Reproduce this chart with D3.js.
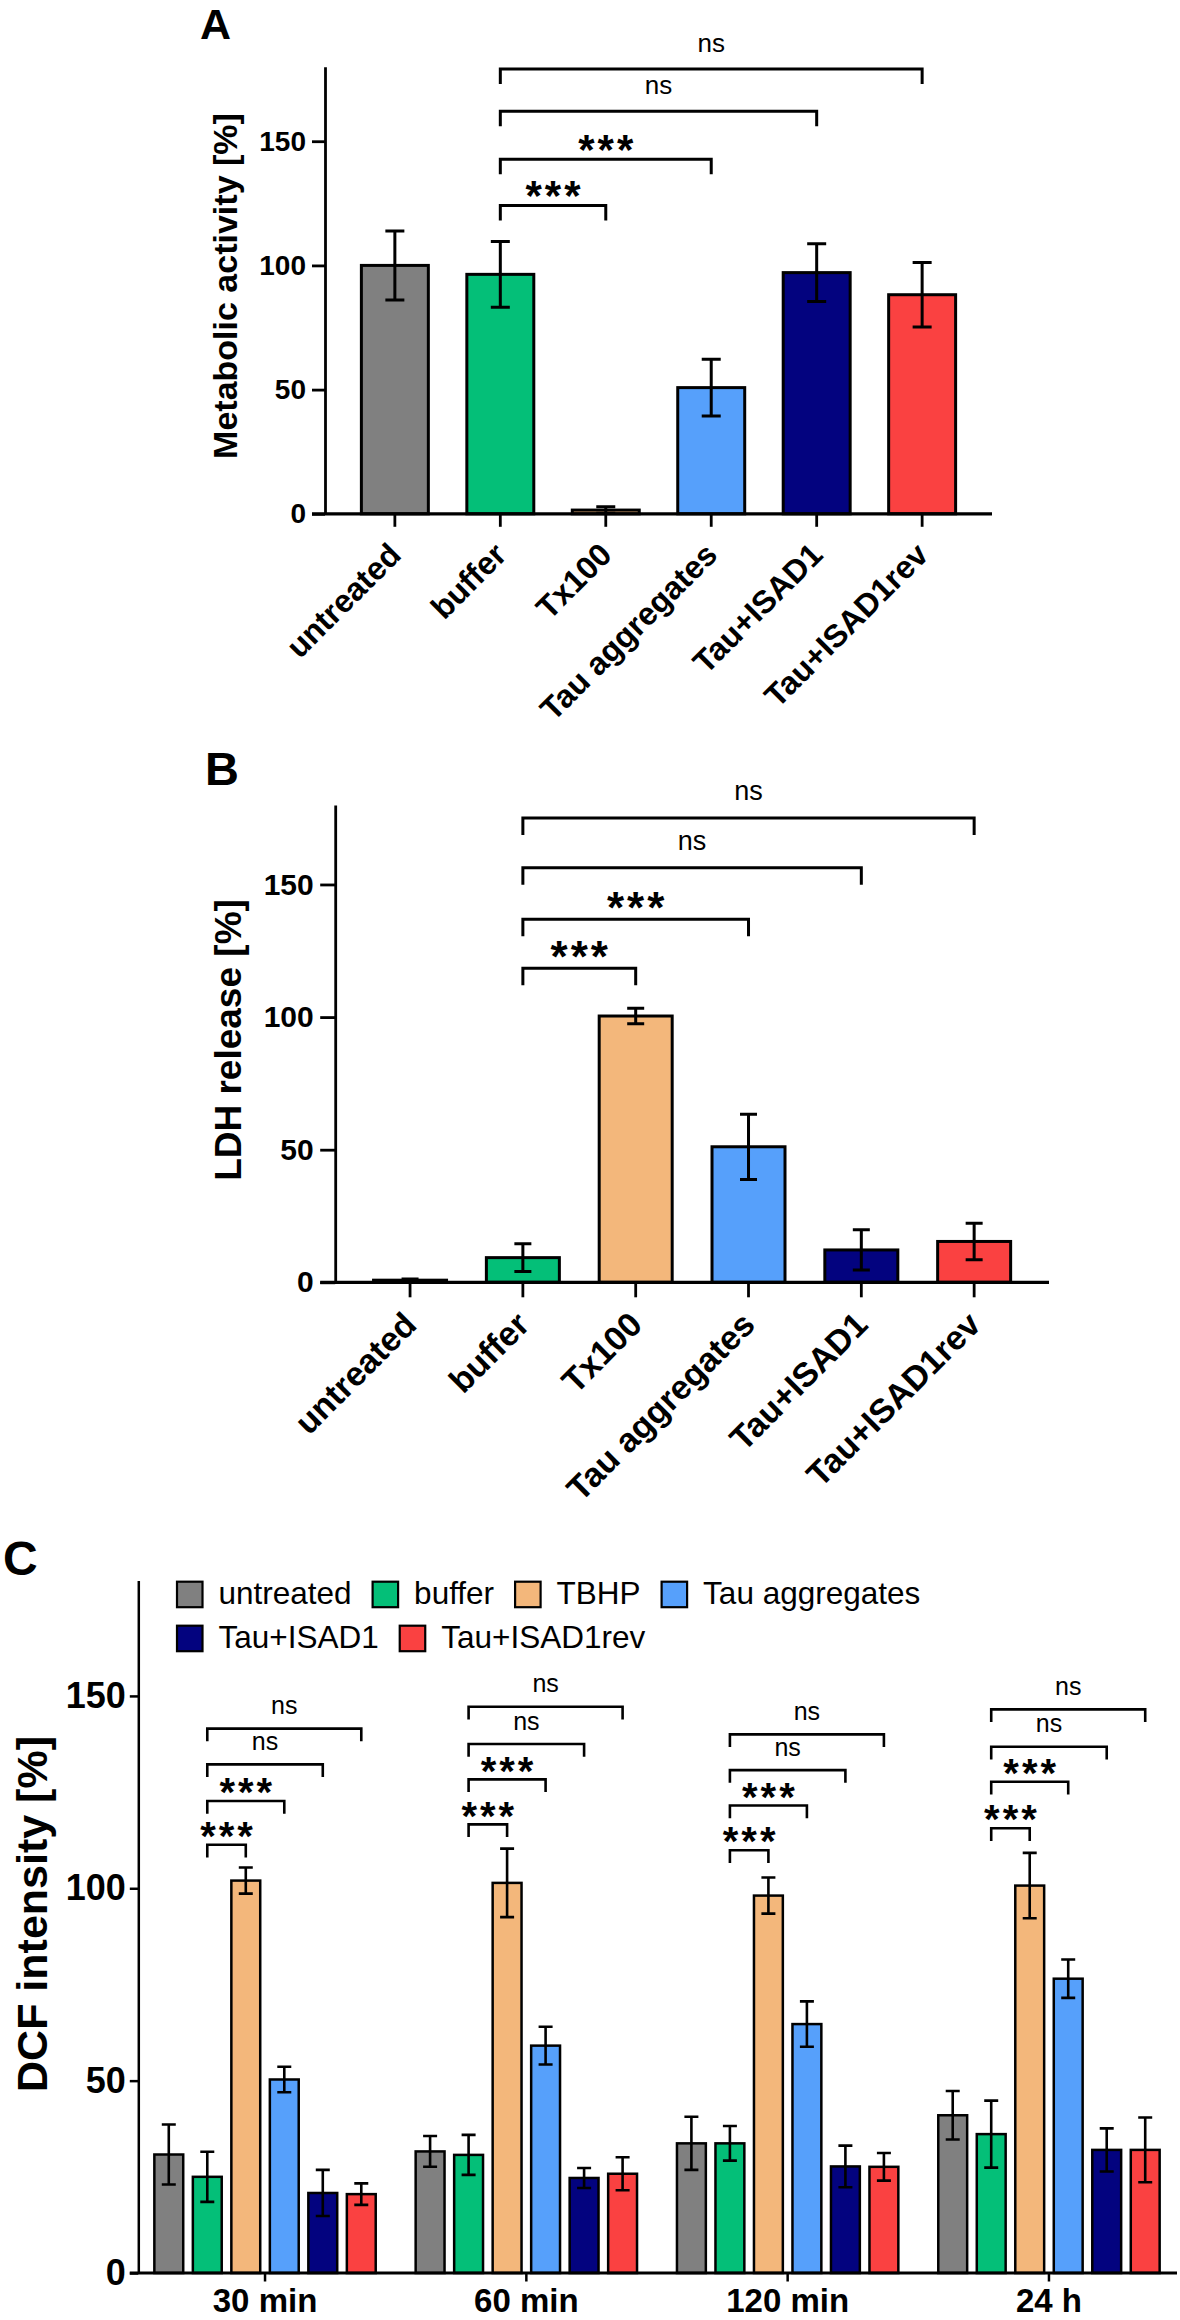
<!DOCTYPE html>
<html>
<head>
<meta charset="utf-8">
<script src="https://cdn.jsdelivr.net/npm/d3@7"></script>
<style>
  body { margin: 0; background: #fff; }
  svg { display: block; }
</style>
</head>
<body>
<svg id="chart" width="1180" height="2320"></svg>
<script>
// ---------------- DATA ----------------
const categories = ["untreated", "buffer", "Tx100", "Tau aggregates", "Tau+ISAD1", "Tau+ISAD1rev"];
const yTicks = [0, 50, 100, 150];
const sigLabels = ["***", "***", "ns", "ns"];

// Panel A: metabolic activity [%]
const metabolicMean = [100, 96.4, 1.5, 50.8, 97.1, 88.2];
const metabolicSD   = [13.9, 13.2, 1.3, 11.4, 11.6, 13.0];
const metabolicBracket = [124.1, 142.7, 162.1, 179.1];

// Panel B: LDH release [%]
const ldhMean = [0.8, 9.3, 100.4, 51.1, 12.2, 15.4];
const ldhSD   = [0.4, 5.2, 2.9, 12.3, 7.6, 6.9];
const ldhBracket = [118.4, 136.9, 156.3, 175.1];

// Panel C: DCF intensity [%]
const timepoints = ["30 min", "60 min", "120 min", "24 h"];
const seriesNames = ["untreated", "buffer", "TBHP", "Tau aggregates", "Tau+ISAD1", "Tau+ISAD1rev"];
const dcfUntreated   = [30.8, 31.6, 33.7, 41.0];
const dcfBuffer      = [25.0, 30.7, 33.7, 36.1];
const dcfTBHP        = [102.0, 101.4, 98.1, 100.7];
const dcfTauAgg      = [50.3, 59.1, 64.7, 76.5];
const dcfTauISAD1    = [20.8, 24.7, 27.7, 32.0];
const dcfTauISAD1rev = [20.5, 25.8, 27.6, 32.0];
const sdUntreated   = [7.8, 4.0, 6.9, 6.3];
const sdBuffer      = [6.5, 5.2, 4.5, 8.7];
const sdTBHP        = [3.4, 8.9, 4.7, 8.5];
const sdTauAgg      = [3.3, 4.9, 5.9, 5.0];
const sdTauISAD1    = [6.0, 2.6, 5.4, 5.6];
const sdTauISAD1rev = [2.8, 4.3, 3.6, 8.4];
const dcfBracket = [
  [111.3, 122.7, 132.2, 141.5],
  [116.6, 128.3, 137.5, 147.2],
  [109.9, 121.5, 130.7, 140.0],
  [115.6, 127.7, 136.8, 146.5]
];

const colors = ["#808080", "#04BF78", "#F3B77B", "#56A0FB", "#03037F", "#FA4141"];

// ---------------- DRAWING ----------------
const FONT = '"Liberation Sans", Arial, Helvetica, sans-serif';
const svg = d3.select("#chart");

function styleAxis(ax, o) {
  ax.attr("font-family", null).attr("font-size", null);
  ax.select(".domain").attr("stroke", "#000").attr("stroke-width", o.axisW);
  ax.selectAll(".tick line").attr("stroke", "#000").attr("stroke-width", o.axisW);
  ax.selectAll(".tick text").attr("fill", "#000").style("font-family", FONT)
    .style("font-size", o.tickFs + "px").style("font-weight", "bold");
}

function drawSig(g, xl, xr, yb, drop, label, o) {
  g.append("path")
    .attr("d", `M${xl},${yb + drop}V${yb}H${xr}V${yb + drop}`)
    .attr("fill", "none").attr("stroke", "#000").attr("stroke-width", o.brW);
  const mid = (xl + xr) / 2;
  if (label === "ns") {
    g.append("text").attr("x", mid).attr("y", yb - o.nsOff + 0.26 * o.nsFs)
      .attr("text-anchor", "middle").style("font-family", FONT)
      .style("font-size", o.nsFs + "px").text(label);
  } else {
    g.append("text").attr("x", mid + o.starLs / 2).attr("y", yb - o.starOff + 0.57 * o.starFs)
      .attr("text-anchor", "middle").style("font-family", FONT)
      .style("font-size", o.starFs + "px").style("font-weight", "bold")
      .style("letter-spacing", o.starLs + "px").text(label);
  }
}

function simplePanel(o) {
  const g = svg.append("g");
  const x = d3.scaleBand().domain(categories).range([o.x0, o.x1])
    .paddingInner(o.pi).paddingOuter(o.po);
  const y = d3.scaleLinear().domain([0, 180]).range([o.y0, o.yTop]);
  const bw = x.bandwidth();
  const cx = d => x(d) + bw / 2;

  g.selectAll("rect.bar").data(categories).join("rect").attr("class", "bar")
    .attr("x", d => x(d)).attr("width", bw)
    .attr("y", (d, i) => y(o.mean[i]))
    .attr("height", (d, i) => y(0) - y(o.mean[i]))
    .attr("fill", (d, i) => colors[i]).attr("stroke", "#000").attr("stroke-width", o.barW);

  // error bars
  const eb = g.append("g").attr("stroke", "#000").attr("stroke-width", o.errW).attr("fill", "none");
  categories.forEach((d, i) => {
    const hi = y(o.mean[i] + o.sd[i]), lo = y(Math.max(0, o.mean[i] - o.sd[i]));
    eb.append("path").attr("d",
      `M${cx(d)},${hi}V${lo}M${cx(d) - o.cap / 2},${hi}H${cx(d) + o.cap / 2}` +
      (o.mean[i] - o.sd[i] > 0 ? `M${cx(d) - o.cap / 2},${lo}H${cx(d) + o.cap / 2}` : ""));
  });

  // y axis
  const ya = g.append("g").attr("transform", `translate(${o.x0},0)`)
    .call(d3.axisLeft(y).tickValues(yTicks).tickSize(o.tick).tickSizeOuter(0).tickPadding(o.tickPad));
  styleAxis(ya, o);

  // x axis
  const xa = g.append("g").attr("transform", `translate(0,${o.y0})`)
    .call(d3.axisBottom(x).tickSize(o.tick).tickSizeOuter(0).tickFormat(""));
  styleAxis(xa, o);
  xa.select(".domain").remove();
  g.append("line").attr("x1", o.x0 - o.tick).attr("x2", o.x1).attr("y1", o.y0).attr("y2", o.y0)
    .attr("stroke", "#000").attr("stroke-width", o.axisW + 0.5);

  // rotated category labels
  g.selectAll("text.cat").data(categories).join("text").attr("class", "cat")
    .attr("transform", d => `translate(${cx(d)},${o.y0 + o.labOff}) rotate(-45)`)
    .attr("text-anchor", "end").attr("dy", "0.35em")
    .style("font-family", FONT).style("font-size", o.catFs + "px").style("font-weight", "bold")
    .text(d => d);

  // y label
  g.append("text").attr("transform", `translate(${o.ylabX},${o.ylabY}) rotate(-90)`)
    .attr("text-anchor", "middle").style("font-family", FONT)
    .style("font-size", o.ylabFs + "px").style("font-weight", "bold").text(o.ylab);

  // panel letter
  g.append("text").attr("x", o.letterX).attr("y", o.letterY)
    .style("font-family", FONT).style("font-size", o.letterFs + "px").style("font-weight", "bold")
    .text(o.letter);

  // significance brackets (buffer vs. others)
  o.brackets.forEach((v, k) => {
    drawSig(g, cx(categories[1]), cx(categories[k + 2]), y(v), o.drop, sigLabels[k], o);
  });
}

simplePanel({
  letter: "A", letterX: 200, letterY: 39, letterFs: 43,
  ylab: "Metabolic activity [%]", ylabX: 237, ylabY: 286, ylabFs: 34,
  x0: 325, x1: 992, y0: 513.8, yTop: 66.7, pi: 0.365, po: 0.345,
  mean: metabolicMean, sd: metabolicSD, brackets: metabolicBracket,
  barW: 3, errW: 3, cap: 19, axisW: 2.8, tick: 13, tickPad: 6, tickFs: 28,
  catFs: 32, labOff: 35, drop: 15, brW: 3,
  nsFs: 26, nsOff: 23.5, starFs: 42, starOff: 19, starLs: 3
});

simplePanel({
  letter: "B", letterX: 205, letterY: 785, letterFs: 47,
  ylab: "LDH release [%]", ylabX: 241, ylabY: 1040, ylabFs: 37,
  x0: 335.2, x1: 1049, y0: 1282.3, yTop: 804.9, pi: 0.353, po: 0.34,
  mean: ldhMean, sd: ldhSD, brackets: ldhBracket,
  barW: 3, errW: 3, cap: 17, axisW: 2.8, tick: 15, tickPad: 6.5, tickFs: 30,
  catFs: 34, labOff: 36, drop: 17, brW: 3,
  nsFs: 27, nsOff: 25, starFs: 44, starOff: 21, starLs: 3
});

// ---------------- PANEL C ----------------
(function () {
  const o = {
    x0: 138.3, x1: 1177, y0: 2273, yTop: 1580.5,
    barW: 2.5, errW: 2.6, cap: 14, axisW: 2.5, tick: 8.5, tickPad: 4, tickFs: 36,
    drop: 12.7, brW: 2.6, nsFs: 25, nsOff: 21, starFs: 40, starOff: 17.6, starLs: 3
  };
  const g = svg.append("g");
  const means = [dcfUntreated, dcfBuffer, dcfTBHP, dcfTauAgg, dcfTauISAD1, dcfTauISAD1rev];
  const sds = [sdUntreated, sdBuffer, sdTBHP, sdTauAgg, sdTauISAD1, sdTauISAD1rev];
  const x0 = d3.scaleBand().domain(timepoints).range([o.x0, 1175.7]).paddingInner(0.116).paddingOuter(0.043);
  const x1 = d3.scaleBand().domain(seriesNames).range([0, x0.bandwidth()]).paddingInner(0.25).paddingOuter(0.125);
  const y = d3.scaleLinear().domain([0, 180]).range([o.y0, o.yTop]);
  const bw = x1.bandwidth();
  const cx = (t, s) => x0(t) + x1(s) + bw / 2;

  const cells = [];
  timepoints.forEach((t, ti) => seriesNames.forEach((s, si) => cells.push({ t, s, ti, si, v: means[si][ti], e: sds[si][ti] })));

  g.selectAll("rect.bar").data(cells).join("rect").attr("class", "bar")
    .attr("x", d => x0(d.t) + x1(d.s)).attr("width", bw)
    .attr("y", d => y(d.v)).attr("height", d => y(0) - y(d.v))
    .attr("fill", d => colors[d.si]).attr("stroke", "#000").attr("stroke-width", o.barW);

  const eb = g.append("g").attr("stroke", "#000").attr("stroke-width", o.errW).attr("fill", "none");
  cells.forEach(d => {
    const c = cx(d.t, d.s), hi = y(d.v + d.e), lo = y(d.v - d.e);
    eb.append("path").attr("d",
      `M${c},${hi}V${lo}M${c - o.cap / 2},${hi}H${c + o.cap / 2}M${c - o.cap / 2},${lo}H${c + o.cap / 2}`);
  });

  const ya = g.append("g").attr("transform", `translate(${o.x0},0)`)
    .call(d3.axisLeft(y).tickValues(yTicks).tickSize(o.tick).tickSizeOuter(0).tickPadding(o.tickPad));
  styleAxis(ya, o);

  const xa = g.append("g").attr("transform", `translate(0,${o.y0})`)
    .call(d3.axisBottom(x0).tickSize(o.tick).tickSizeOuter(0).tickPadding(10));
  styleAxis(xa, o);
  xa.select(".domain").remove();
  xa.selectAll(".tick text").style("font-size", "33px").attr("dy", null).attr("y", 39);
  g.append("line").attr("x1", o.x0 - o.tick).attr("x2", o.x1).attr("y1", o.y0).attr("y2", o.y0)
    .attr("stroke", "#000").attr("stroke-width", o.axisW + 0.5);

  // brackets
  timepoints.forEach((t, ti) => {
    dcfBracket[ti].forEach((v, k) => {
      drawSig(g, cx(t, seriesNames[1]), cx(t, seriesNames[k + 2]), y(v), o.drop, sigLabels[k], o);
    });
  });

  // y label & letter
  g.append("text").attr("transform", `translate(47,1914) rotate(-90)`)
    .attr("text-anchor", "middle").style("font-family", FONT)
    .style("font-size", "43px").style("font-weight", "bold").text("DCF intensity [%]");
  g.append("text").attr("x", 3).attr("y", 1575)
    .style("font-family", FONT).style("font-size", "48px").style("font-weight", "bold").text("C");

  // legend (two rows, flowing)
  const rows = [[0, 1, 2, 3], [4, 5]];
  const rowTop = [1581.7, 1625.7];
  const sq = 25.5, gapTxt = 16, gapItem = 21, legFs = 31.5;
  rows.forEach((row, ri) => {
    let xx = 177;
    row.forEach(si => {
      g.append("rect").attr("x", xx).attr("y", rowTop[ri]).attr("width", sq).attr("height", sq)
        .attr("fill", colors[si]).attr("stroke", "#000").attr("stroke-width", 2.2);
      const tx = g.append("text").attr("x", xx + sq + gapTxt).attr("y", rowTop[ri] + 22)
        .style("font-family", FONT).style("font-size", legFs + "px").text(seriesNames[si]);
      xx += sq + gapTxt + tx.node().getComputedTextLength() + gapItem;
    });
  });
})();
</script>
</body>
</html>
